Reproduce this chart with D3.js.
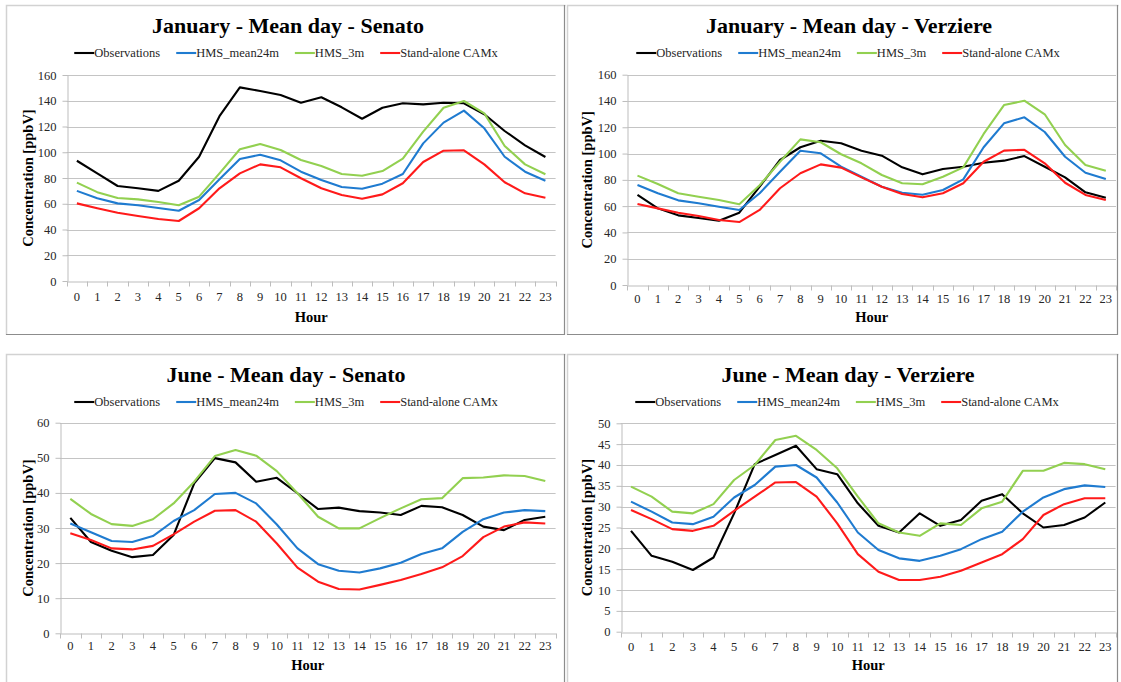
<!DOCTYPE html>
<html>
<head>
<meta charset="utf-8">
<script src="https://cdn.jsdelivr.net/npm/d3@7"></script>
<style>
  body { margin: 0; background: #ffffff; }
  svg { display: block; }
  text { font-family: "Liberation Serif", "Times New Roman", serif; }
</style>
</head>
<body>
<svg id="chart" width="1121" height="682"></svg>
<script>
// Hour-of-day categories shared by every panel
const hours = ["0","1","2","3","4","5","6","7","8","9","10","11","12","13","14","15","16","17","18","19","20","21","22","23"];

const seriesNames = ["Observations", "HMS_mean24m", "HMS_3m", "Stand-alone CAMx"];
const seriesColors = ["#000000", "#1f7bd0", "#92d050", "#ff1a1a"];

// January - Senato (ppbV)
const janSenatoObs    = [93.4, 83.6, 73.8, 72.0, 70.0, 77.9, 96.5, 128.0, 150.4, 147.6, 144.5, 138.5, 142.7, 134.9, 126.0, 134.6, 138.0, 137.2, 138.5, 138.0, 129.5, 116.5, 105.4, 96.3];
const janSenatoMean24 = [70.0, 64.2, 60.3, 58.8, 56.7, 54.6, 62.9, 79.0, 94.8, 98.1, 93.7, 84.9, 78.4, 73.0, 71.7, 75.6, 83.1, 106.9, 123.0, 132.3, 118.6, 96.5, 84.9, 77.9];
const janSenato3m     = [76.4, 69.0, 64.5, 63.4, 61.4, 58.8, 65.5, 83.6, 102.3, 106.4, 101.7, 94.0, 89.3, 83.1, 81.8, 85.4, 95.0, 116.0, 134.6, 139.8, 130.2, 104.9, 90.6, 82.9];
const janSenatoCamx   = [60.3, 56.5, 53.0, 50.5, 48.2, 46.6, 56.5, 72.0, 83.6, 90.6, 88.3, 79.8, 72.0, 66.8, 63.9, 67.3, 75.9, 92.4, 101.2, 101.5, 90.6, 76.7, 68.1, 64.7];

// January - Verziere (ppbV)
const janVerziereObs    = [68.5, 58.3, 53.0, 51.0, 48.9, 55.0, 74.8, 95.1, 104.8, 109.8, 107.8, 102.2, 98.4, 89.5, 84.2, 88.3, 90.0, 93.0, 94.6, 98.1, 90.0, 81.9, 70.5, 66.4];
const janVerziereMean24 = [76.1, 69.8, 64.4, 62.2, 59.6, 57.1, 69.8, 86.2, 102.2, 100.2, 90.0, 82.4, 74.8, 70.2, 68.7, 72.3, 80.4, 104.8, 123.0, 127.6, 116.4, 97.6, 85.4, 80.6];
const janVerziere3m     = [83.2, 76.8, 69.8, 67.2, 64.7, 61.4, 75.9, 93.8, 110.8, 108.6, 99.5, 92.6, 83.7, 77.4, 76.6, 82.4, 89.5, 114.9, 136.9, 140.2, 129.9, 106.5, 91.3, 87.0];
const janVerziereCamx   = [61.6, 58.3, 55.0, 52.5, 49.5, 47.9, 57.1, 73.6, 85.0, 91.8, 89.3, 81.9, 74.8, 69.2, 66.7, 69.8, 77.4, 93.8, 102.2, 102.9, 92.6, 77.8, 68.5, 64.7];

// June - Senato (ppbV)
const junSenatoObs    = [32.9, 26.0, 23.5, 21.7, 22.3, 28.0, 42.7, 49.9, 48.7, 43.2, 44.3, 39.9, 35.4, 35.8, 34.8, 34.4, 33.7, 36.3, 35.9, 33.7, 30.4, 29.4, 32.3, 33.2];
const junSenatoMean24 = [31.3, 28.8, 26.3, 26.0, 27.7, 32.0, 35.1, 39.7, 40.0, 37.0, 31.0, 24.2, 19.7, 17.8, 17.3, 18.5, 20.1, 22.6, 24.2, 28.9, 32.5, 34.4, 35.1, 34.8];
const junSenato3m     = [38.3, 34.0, 31.1, 30.6, 32.5, 37.0, 43.2, 50.5, 52.2, 50.6, 46.2, 39.9, 33.2, 29.9, 29.9, 32.8, 35.6, 38.2, 38.5, 44.2, 44.4, 45.0, 44.8, 43.4];
const junSenatoCamx   = [28.5, 26.6, 24.2, 23.9, 24.9, 28.2, 31.8, 34.9, 35.1, 31.8, 25.6, 18.7, 14.7, 12.6, 12.5, 13.8, 15.2, 16.9, 18.8, 22.0, 27.4, 30.4, 31.6, 31.3];

// June - Verziere (ppbV)
const junVerziereObs    = [24.2, 18.2, 16.8, 14.8, 17.8, 28.4, 40.2, 42.4, 44.6, 39.0, 37.8, 30.8, 25.4, 23.8, 28.4, 25.4, 26.8, 31.4, 33.0, 28.4, 25.0, 25.6, 27.4, 31.0];
const junVerziereMean24 = [31.2, 28.8, 26.2, 25.8, 27.6, 32.2, 35.2, 39.6, 40.0, 37.0, 31.0, 23.8, 19.6, 17.6, 17.0, 18.2, 19.8, 22.2, 24.0, 28.8, 32.2, 34.2, 35.1, 34.7];
const junVerziere3m     = [34.8, 32.4, 28.8, 28.4, 30.6, 36.4, 40.0, 46.0, 47.0, 43.6, 39.2, 32.4, 26.0, 23.8, 23.0, 26.0, 25.6, 29.6, 31.2, 38.6, 38.6, 40.5, 40.2, 39.0];
const junVerziereCamx   = [29.2, 27.0, 24.6, 24.2, 25.4, 29.0, 32.4, 35.8, 35.9, 32.4, 26.0, 18.6, 14.4, 12.4, 12.4, 13.2, 14.6, 16.6, 18.6, 22.2, 28.0, 30.6, 32.0, 32.0];

// Y-axis tick values
const janYTicks = [0, 20, 40, 60, 80, 100, 120, 140, 160];
const junSenatoYTicks = [0, 10, 20, 30, 40, 50, 60];
const junVerziereYTicks = [0, 5, 10, 15, 20, 25, 30, 35, 40, 45, 50];

const panelTitles = [
  "January - Mean day - Senato",
  "January - Mean day - Verziere",
  "June - Mean day - Senato",
  "June - Mean day - Verziere"
];
const yAxisTitle = "Concentration [ppbV]";
const xAxisTitle = "Hour";

// Panel geometry
const panels = [
  { title: panelTitles[0], series: [janSenatoObs, janSenatoMean24, janSenato3m, janSenatoCamx], yTicks: janYTicks,
    frame: [6, 5, 565, 335], plot: { left: 66.7, right: 555.6, top: 75, bottom: 281 },
    titleX: 288, titleY: 33, legendX: 286, legendY: 53, yLabelX: 28, hourY: 322, tickPad: 11 },
  { title: panelTitles[1], series: [janVerziereObs, janVerziereMean24, janVerziere3m, janVerziereCamx], yTicks: janYTicks,
    frame: [567, 5, 1118, 335], plot: { left: 627.3, right: 1116, top: 74.7, bottom: 285 },
    titleX: 849, titleY: 33, legendX: 848, legendY: 53, yLabelX: 587, hourY: 322, tickPad: 9 },
  { title: panelTitles[2], series: [junSenatoObs, junSenatoMean24, junSenato3m, junSenatoCamx], yTicks: junSenatoYTicks,
    frame: [6, 354, 565, 700], plot: { left: 60, right: 555.6, top: 422.7, bottom: 633.3 },
    titleX: 286, titleY: 382, legendX: 286, legendY: 402, yLabelX: 28, hourY: 670, tickPad: 8 },
  { title: panelTitles[3], series: [junVerziereObs, junVerziereMean24, junVerziere3m, junVerziereCamx], yTicks: junVerziereYTicks,
    frame: [567, 354, 1118, 700], plot: { left: 620.7, right: 1115.6, top: 423.3, bottom: 631.7 },
    titleX: 848, titleY: 382, legendX: 847, legendY: 402, yLabelX: 587, hourY: 670, tickPad: 10 }
];

const svg = d3.select("#chart");
const gridColor = "#c4c4c4";
const axisColor = "#bdbdbd";
const labelColor = "#262626";
const serif = '"Liberation Serif", "Times New Roman", serif';

panels.forEach(p => {
  const g = svg.append("g");
  const [fx0, fy0, fx1, fy1] = p.frame;

  // Panel frame: light top/left edges, darker right/bottom edges
  g.append("path")
    .attr("d", `M${fx0 + 0.5},${fy1} V${fy0 + 0.5} H${fx1 + 0.5}`)
    .attr("fill", "none").attr("stroke", "#d2d2d2").attr("stroke-width", 1.5);
  g.append("path")
    .attr("d", `M${fx1 - 0.5},${fy0} V${fy1 - 0.5} H${fx0}`)
    .attr("fill", "none").attr("stroke", "#8c8c8c").attr("stroke-width", 1.2);

  const x = d3.scaleBand().domain(hours).range([p.plot.left, p.plot.right]).padding(0);
  const y = d3.scaleLinear().domain([0, d3.max(p.yTicks)]).range([p.plot.bottom, p.plot.top]);
  const bw = x.bandwidth();

  // Horizontal gridlines
  g.append("g").selectAll("line")
    .data(p.yTicks.filter(t => t > 0))
    .join("line")
    .attr("x1", p.plot.left).attr("x2", p.plot.right)
    .attr("y1", d => Math.round(y(d)) + 0.5).attr("y2", d => Math.round(y(d)) + 0.5)
    .attr("stroke", gridColor).attr("stroke-width", 1);

  // Y axis
  const yAxis = d3.axisLeft(y).tickValues(p.yTicks).tickSize(5).tickSizeOuter(0).tickPadding(6);
  const yg = g.append("g")
    .attr("transform", `translate(${Math.round(p.plot.left) + 0.5},0)`)
    .call(yAxis);
  yg.attr("font-family", serif);
  yg.select(".domain").attr("stroke", axisColor);
  yg.selectAll(".tick line").attr("stroke", axisColor);
  yg.selectAll(".tick text").attr("fill", labelColor).style("font-size", "12.5px")
    .style("font-family", serif);

  // X axis: labels centred on each hour
  const xAxis = d3.axisBottom(x).tickSize(0).tickSizeOuter(0).tickPadding(p.tickPad);
  const xg = g.append("g")
    .attr("transform", `translate(0,${Math.round(p.plot.bottom) + 0.5})`)
    .call(xAxis);
  xg.attr("font-family", serif);
  xg.select(".domain").attr("stroke", axisColor);
  xg.selectAll(".tick text").attr("fill", labelColor).style("font-size", "12.5px")
    .style("font-family", serif);

  // X tick marks on the category boundaries
  const boundaries = hours.map(h => x(h)).concat([x(hours[hours.length - 1]) + bw]);
  g.append("g").selectAll("line")
    .data(boundaries)
    .join("line")
    .attr("x1", d => Math.round(d) + 0.5).attr("x2", d => Math.round(d) + 0.5)
    .attr("y1", Math.round(p.plot.bottom) + 0.5).attr("y2", Math.round(p.plot.bottom) + 5.5)
    .attr("stroke", axisColor);

  // Series lines
  const line = d3.line()
    .x((d, i) => x(hours[i]) + bw / 2)
    .y(d => y(d));
  g.append("g").selectAll("path")
    .data(p.series)
    .join("path")
    .attr("d", d => line(d))
    .attr("fill", "none")
    .attr("stroke", (d, i) => seriesColors[i])
    .attr("stroke-width", 2.1)
    .attr("stroke-linejoin", "round");

  // Title
  g.append("text")
    .attr("x", p.titleX).attr("y", p.titleY)
    .attr("text-anchor", "middle")
    .style("font-size", "22px").style("font-weight", "bold").attr("fill", "#000")
    .text(p.title);

  // Legend, laid out from measured text widths and centred
  const lg = g.append("g");
  let cursor = 0;
  const lineLen = 20, itemGap = 16;
  seriesNames.forEach((name, i) => {
    const item = lg.append("g").attr("transform", `translate(${cursor},0)`);
    item.append("line")
      .attr("x1", 0).attr("x2", lineLen)
      .attr("y1", p.legendY).attr("y2", p.legendY)
      .attr("stroke", seriesColors[i]).attr("stroke-width", 2.1);
    const t = item.append("text")
      .attr("x", lineLen).attr("y", p.legendY + 4.3)
      .style("font-size", "12.5px").attr("fill", labelColor)
      .text(name);
    cursor += lineLen + t.node().getComputedTextLength() + itemGap;
  });
  const legendWidth = cursor - itemGap;
  lg.attr("transform", `translate(${p.legendX - legendWidth / 2},0)`);

  // Axis titles
  const midY = (p.plot.top + p.plot.bottom) / 2;
  g.append("text")
    .attr("transform", `translate(${p.yLabelX + 5},${midY}) rotate(-90)`)
    .attr("text-anchor", "middle")
    .style("font-size", "14.5px").style("font-weight", "bold").attr("fill", "#000")
    .text(yAxisTitle);
  g.append("text")
    .attr("x", (p.plot.left + p.plot.right) / 2).attr("y", p.hourY)
    .attr("text-anchor", "middle")
    .style("font-size", "14.5px").style("font-weight", "bold").attr("fill", "#000")
    .text(xAxisTitle);
});
</script>
</body>
</html>
